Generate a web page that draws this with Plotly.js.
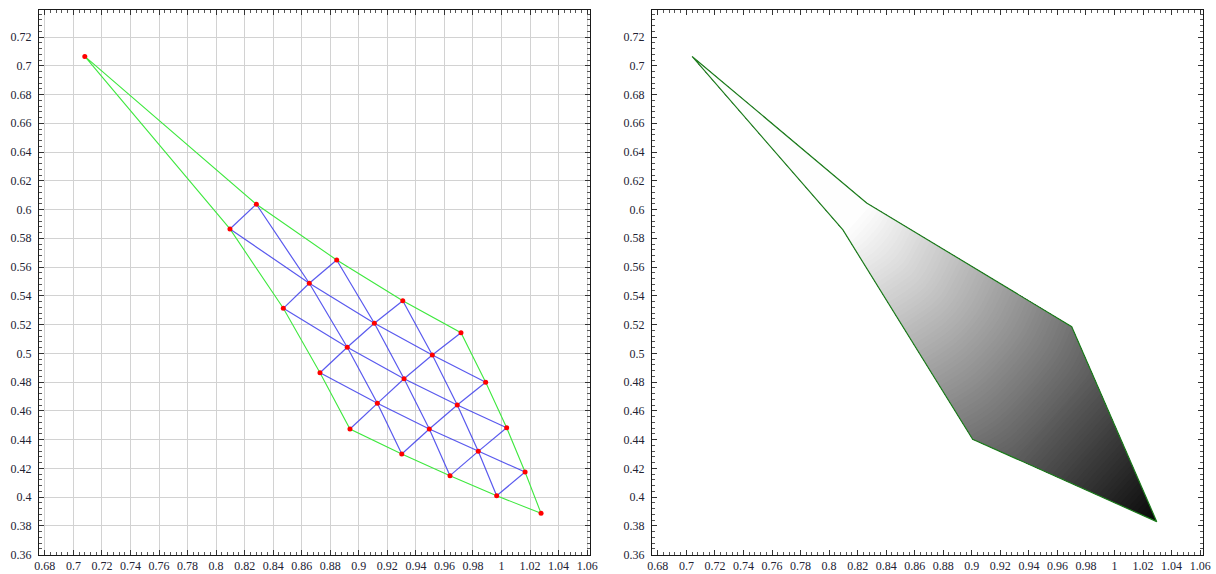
<!DOCTYPE html>
<html><head><meta charset="utf-8">
<script src="https://cdn.plot.ly/plotly-3.0.1.min.js"></script>
<style>html,body{margin:0;padding:0;background:#fff}#chart{width:1216px;height:574px}</style>
</head><body><div id="chart"></div>
<script>
// ---- tick labels ----
const xTickVals = [0.68,0.70,0.72,0.74,0.76,0.78,0.80,0.82,0.84,0.86,0.88,0.90,0.92,0.94,0.96,0.98,1.00,1.02,1.04,1.06];
const xTickText = ['0.68','0.7','0.72','0.74','0.76','0.78','0.8','0.82','0.84','0.86','0.88','0.9','0.92','0.94','0.96','0.98','1','1.02','1.04','1.06'];
const yTickVals = [0.36,0.38,0.40,0.42,0.44,0.46,0.48,0.50,0.52,0.54,0.56,0.58,0.60,0.62,0.64,0.66,0.68,0.70,0.72];
const yTickText = ['0.36','0.38','0.4','0.42','0.44','0.46','0.48','0.5','0.52','0.54','0.56','0.58','0.6','0.62','0.64','0.66','0.68','0.7','0.72'];

// ---- left panel: 5x5 mesh nodes, rows = gentle lines, columns = steep lines ----
const meshX = [
  [0.7080, 0.8282, 0.8845, 0.9308, 0.9716],
  [0.8097, 0.8653, 0.9109, 0.9515, 0.9889],
  [0.8471, 0.8919, 0.9317, 0.9690, 1.0036],
  [0.8728, 0.9130, 0.9494, 0.9837, 1.0165],
  [0.8938, 0.9301, 0.9639, 0.9966, 1.0277]
];
const meshY = [
  [0.7065, 0.6037, 0.5649, 0.5366, 0.5143],
  [0.5865, 0.5487, 0.5209, 0.4988, 0.4798],
  [0.5313, 0.5042, 0.4823, 0.4640, 0.4482],
  [0.4865, 0.4652, 0.4473, 0.4318, 0.4174],
  [0.4473, 0.4300, 0.4149, 0.4009, 0.3887]
];

// ---- right panel: coarse carpet of the shaded region ----
const shadeA = [0, 1, 4];
const shadeB = [0, 1, 4];
const shadeX = [
  [0.7040, 0.8263, 0.9700],
  [0.8097, 0.8653, 0.9864],
  [0.9006, 0.9356, 1.0296]
];
const shadeY = [
  [0.7065, 0.6046, 0.5185],
  [0.5858, 0.5487, 0.4812],
  [0.4402, 0.4247, 0.3829]
];
const shadeLevel = [
  [1.00, 1.00, 0.45],
  [1.00, 0.80, 0.35],
  [0.45, 0.35, 0.03]
];

// ---- build line traces from the node arrays ----
const N = meshX.length, M = meshX[0].length;
const blueX = [], blueY = [];
function addPath(pts){ pts.forEach(p=>{blueX.push(meshX[p[0]][p[1]]); blueY.push(meshY[p[0]][p[1]]);}); blueX.push(null); blueY.push(null); }
for (let k=1;k<N-1;k++){ const p=[]; for(let i=0;i<M;i++) p.push([k,i]); addPath(p); }
for (let i=1;i<M-1;i++){ const p=[]; for(let k=0;k<N;k++) p.push([k,i]); addPath(p); }
for (let k=0;k<N-1;k++) for (let i=0;i<M-1;i++) addPath([[k+1,i],[k,i+1]]);

const bx=[], by=[];
for(let i=0;i<M;i++){bx.push(meshX[0][i]); by.push(meshY[0][i]);}
for(let k=1;k<N;k++){bx.push(meshX[k][M-1]); by.push(meshY[k][M-1]);}
for(let i=M-2;i>=0;i--){bx.push(meshX[N-1][i]); by.push(meshY[N-1][i]);}
for(let k=N-2;k>=0;k--){bx.push(meshX[k][0]); by.push(meshY[k][0]);}

const px=[], py=[];
for(let k=0;k<N;k++) for(let i=0;i<M;i++){px.push(meshX[k][i]); py.push(meshY[k][i]);}

const R = shadeX.length, C = shadeX[0].length;
const ox=[], oy=[];
for(let i=0;i<C;i++){ox.push(shadeX[0][i]); oy.push(shadeY[0][i]);}
for(let k=1;k<R;k++){ox.push(shadeX[k][C-1]); oy.push(shadeY[k][C-1]);}
for(let i=C-2;i>=0;i--){ox.push(shadeX[R-1][i]); oy.push(shadeY[R-1][i]);}
for(let k=R-2;k>=0;k--){ox.push(shadeX[k][0]); oy.push(shadeY[k][0]);}

const hiddenCarpetAxis = {showgrid:false, startline:false, endline:false, showline:false,
  showticklabels:'none', smoothing:0, minorgridcount:0};

const data = [
  {type:'scatter', mode:'lines', x:bx, y:by, line:{color:'#3ee83e', width:1.1}, hoverinfo:'skip', xaxis:'x', yaxis:'y'},
  {type:'scatter', mode:'lines', x:blueX, y:blueY, line:{color:'rgba(60,60,235,0.85)', width:1.2}, hoverinfo:'skip', xaxis:'x', yaxis:'y'},
  {type:'scatter', mode:'markers', x:px, y:py, marker:{color:'#ff0000', size:5}, xaxis:'x', yaxis:'y'},
  {type:'carpet', carpet:'shade', a:shadeA, b:shadeB, x:shadeX, y:shadeY, xaxis:'x2', yaxis:'y2',
    aaxis:hiddenCarpetAxis, baxis:hiddenCarpetAxis},
  {type:'contourcarpet', carpet:'shade', a:shadeA, b:shadeB, z:shadeLevel, xaxis:'x2', yaxis:'y2',
    autocontour:false, contours:{start:0, end:1, size:0.01, coloring:'fill', showlines:false},
    line:{width:0}, colorscale:[[0,'rgb(0,0,0)'],[1,'rgb(255,255,255)']], zauto:false, zmin:0, zmax:1, showscale:false},
  {type:'scatter', mode:'lines', x:ox, y:oy, line:{color:'rgb(30,125,30)', width:1.2}, hoverinfo:'skip', xaxis:'x2', yaxis:'y2'}
];

const font = {family:'Liberation Serif, DejaVu Serif, serif', size:12, color:'#222233'};
const yDomain = [1-555/574, 1-10/574];
const yRange = [0.3597, 0.7388];
function xAxis(domain, anchor, grid){
  return {domain:domain, anchor:anchor, range:[0.6759,1.062], tickmode:'array', tickvals:xTickVals, ticktext:xTickText,
    ticks:'inside', ticklen:5, tickcolor:'#333', showline:true, linecolor:'#1a1a1a', linewidth:1, mirror:'ticks',
    showgrid:grid, gridcolor:'#d2d2d2', gridwidth:1, zeroline:false, tickfont:font, ticklabelstandoff:0,
    minor:{tickmode:'linear', tick0:0.68, dtick:0.004, ticks:'inside', ticklen:3, tickcolor:'#555', showgrid:false}};
}
function yAxis(anchor, grid){
  return {domain:yDomain, anchor:anchor, range:yRange, tickmode:'array', tickvals:yTickVals, ticktext:yTickText,
    ticks:'inside', ticklen:5, tickcolor:'#333', showline:true, linecolor:'#1a1a1a', linewidth:1, mirror:'ticks',
    showgrid:grid, gridcolor:'#d2d2d2', gridwidth:1, zeroline:false, tickfont:font, ticklabelstandoff:4,
    minor:{tickmode:'linear', tick0:0.36, dtick:0.004, ticks:'inside', ticklen:3, tickcolor:'#555', showgrid:false}};
}
const layout = {
  width:1216, height:574, margin:{l:0,r:0,t:0,b:0}, paper_bgcolor:'#fff', plot_bgcolor:'#fff', showlegend:false,
  font:font,
  xaxis: xAxis([39/1216, 590/1216], 'y', true),
  yaxis: yAxis('x', true),
  xaxis2: xAxis([652/1216, 1203/1216], 'y2', false),
  yaxis2: yAxis('x2', false)
};
Plotly.newPlot('chart', data, layout, {staticPlot:true, displayModeBar:false});
</script></body></html>
